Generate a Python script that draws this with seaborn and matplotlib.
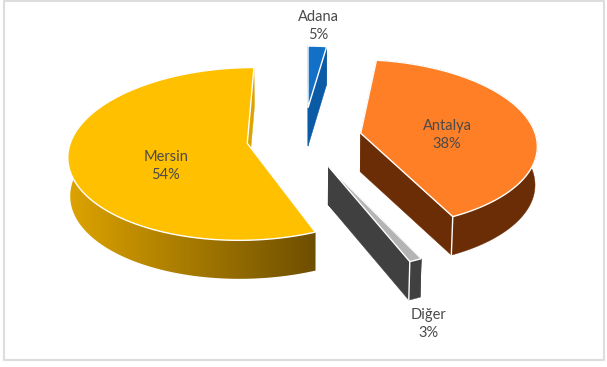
import numpy as np
import matplotlib
matplotlib.use("Agg")
import matplotlib.pyplot as plt
import seaborn as sns
from matplotlib.colors import LinearSegmentedColormap
from matplotlib.patches import Polygon

# Etiketler ve grafikte yazan yuzdeler
categories = ["Adana", "Antalya", "Diğer", "Mersin"]
label_percent = [5, 38, 3, 54]
# Dilimlerin resimde olculen gercek payi (3B cizimde etiketlerle birebir tutmuyor)
drawn_share = [2.2, 40.6, 1.0, 56.2]

top_colors = ["#1270C6", "#FF7F27", "#B4B4B4", "#FFC000"]
wall_colors = ["#0B5AA6", "#6B2D05", "#404040", "#DDA300"]
wall_end = "#6E4F00"

# Dilimlerin duzlemdeki tepe noktalari ve yaricaplari
apex = [(0.0, 0.53), (0.302, 0.21), (0.111, -0.172), (-0.343, 0.09)]
radius = [0.89, 1.0, 1.0, 1.0]
label_xy = [(318, 26), (447, 135), (428, 324), (166, 166)]

X0, Y0, A, B, P = 308, 151, 179, 87, 0.125
DEPTH = 38.5

sns.set_theme(style="white")
plt.rcParams["font.family"] = ["Lato", "DejaVu Sans"]


def project(u, v):
    s = 1 / (1 + P * np.asarray(v))
    return X0 + A * np.asarray(u) * s, Y0 - B * np.asarray(v) * s


def lower(x, y):
    # ayni noktanin taban karsiligi
    return X0 + (x - X0) * 0.99, y + DEPTH


fig = plt.figure(figsize=(6.07, 3.67), dpi=100)
ax = fig.add_axes([0, 0, 1, 1])
ax.set_xlim(0, 607)
ax.set_ylim(367, 0)
ax.axis("off")

# Grafik cercevesi
ax.plot([4, 4, 604, 604, 4], [0.5, 360, 360, 0.5, 0.5], color="#DDDDDD", lw=1.5)

edges = np.cumsum([0] + drawn_share) / 100 * 2 * np.pi
for i, name in enumerate(categories):
    t = np.linspace(edges[i], edges[i + 1], 160)
    cu, cv = apex[i]
    au = cu + radius[i] * np.sin(t)
    av = cv + radius[i] * np.cos(t)
    arc_x, arc_y = project(au, av)
    px, py = project(cu, cv)
    pbx, pby = lower(px, py)
    bx, by = lower(arc_x, arc_y)

    # Yan yuzler: iki kenar ve yay
    for j in (0, -1):
        ax.fill([px, arc_x[j], bx[j], pbx], [py, arc_y[j], by[j], pby],
                color=wall_colors[i], lw=0.3, zorder=2)
    if name == "Mersin":
        # on yuz soldan saga koyulasan gecisli
        near = av <= cv + 0.5
        xs = np.r_[arc_x[near], bx[near][::-1]]
        ys = np.r_[arc_y[near], by[near][::-1]]
        cmap = LinearSegmentedColormap.from_list("wall", [wall_colors[i], wall_end])
        im = ax.imshow(np.linspace(0, 1, 256)[None, :], cmap=cmap, aspect="auto",
                       extent=[xs.min(), xs.max(), ys.max(), ys.min()], zorder=3)
        im.set_clip_path(Polygon(np.c_[xs, ys], transform=ax.transData))
        ax.set_xlim(0, 607)
        ax.set_ylim(367, 0)
    else:
        ax.fill(np.r_[arc_x, bx[::-1]], np.r_[arc_y, by[::-1]],
                color=wall_colors[i], lw=0.3, zorder=3)
    if name in ("Antalya", "Diğer"):
        # on yuzdeki beyaz dikey cizgi
        ax.plot([arc_x[-1], bx[-1]], [arc_y[-1], by[-1]], color="white", lw=1, zorder=4)

    # Ust yuz
    ax.fill(np.r_[px, arc_x], np.r_[py, arc_y], facecolor=top_colors[i],
            edgecolor="white", lw=1, joinstyle="miter", zorder=5)

    lx, ly = label_xy[i]
    ax.text(lx, ly, f"{name}\n{label_percent[i]}%", ha="center", va="center",
            fontsize=10.5, color="#4A4A4A", linespacing=1.3, zorder=6)

fig.savefig("out.png", dpi=100)
